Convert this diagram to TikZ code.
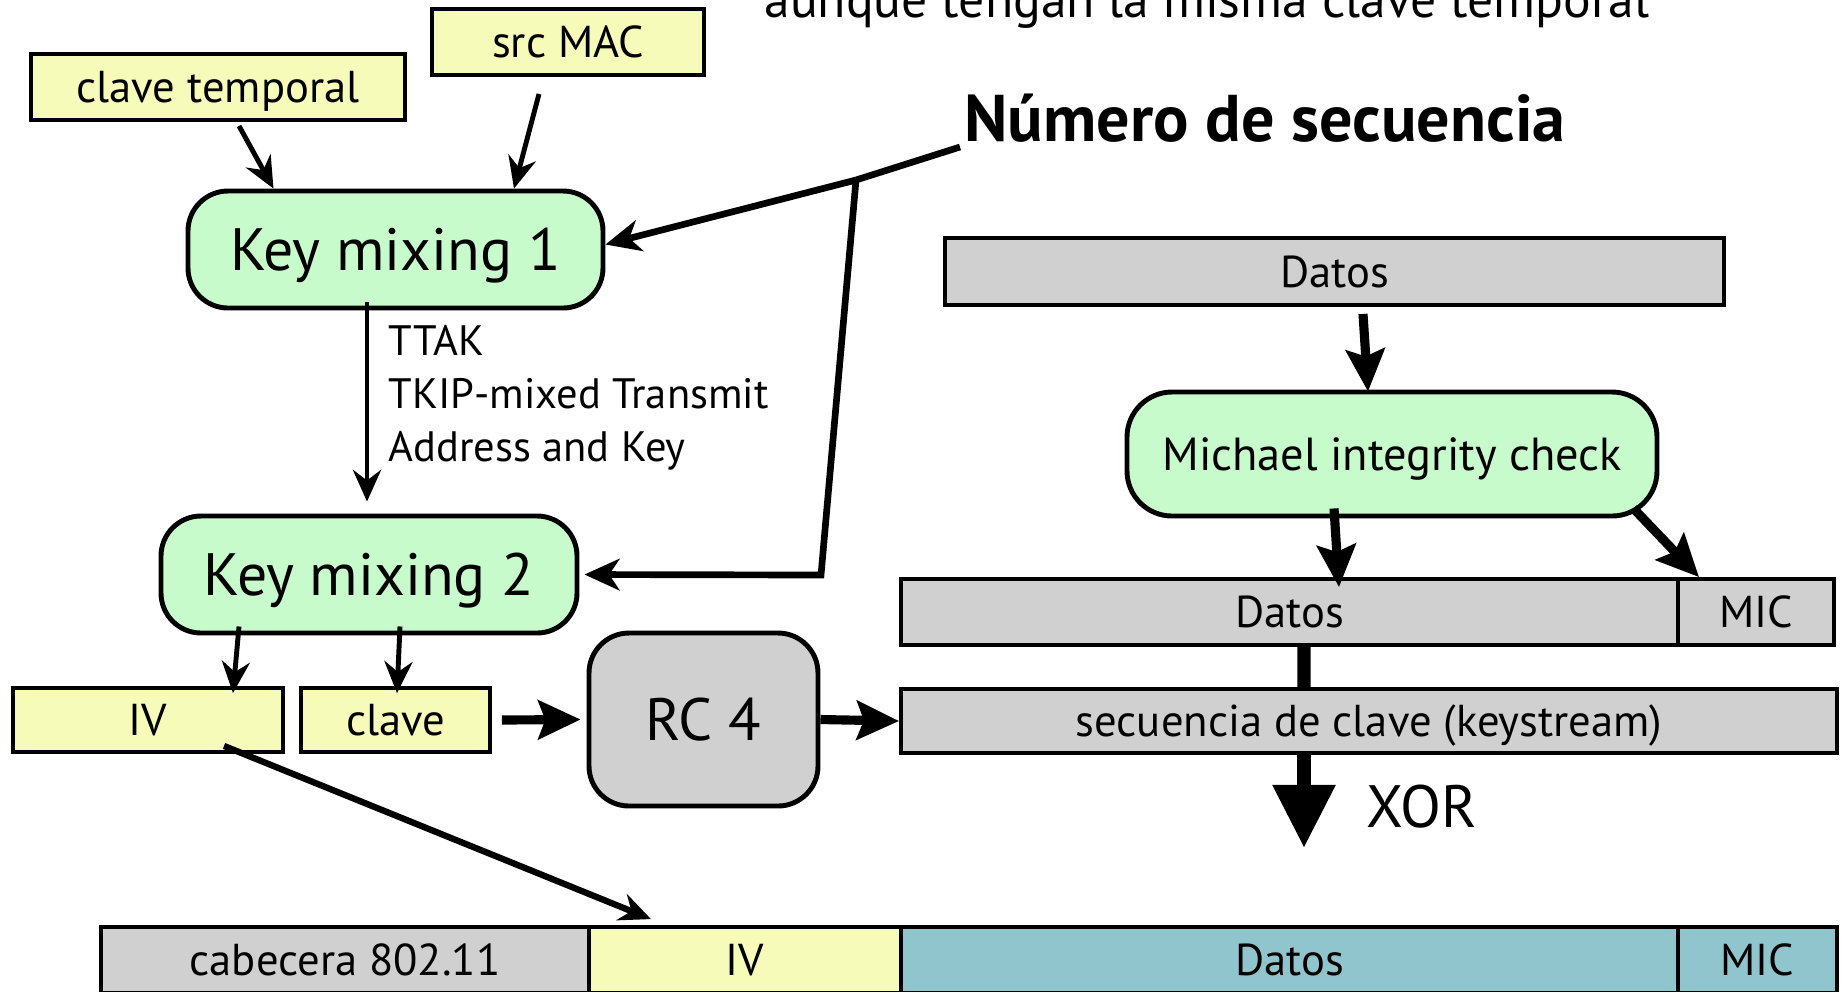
\documentclass[tikz,border=0pt]{standalone}
\usepackage{fontspec}
\setmainfont{PT Sans}
\usetikzlibrary{arrows.meta,calc}

\definecolor{ylw}{RGB}{247,251,185}
\definecolor{grn}{RGB}{200,251,204}
\definecolor{gry}{RGB}{208,208,208}
\definecolor{teal}{RGB}{145,197,206}

\newcommand{\bigfnt}{\fontsize{17}{20}\selectfont}
\newcommand{\labfnt}{\fontsize{12.7}{15}\selectfont}
\newcommand{\ttakfnt}{\fontsize{12.1}{15}\selectfont}
\newcommand{\seqfnt}{\fontsize{18.8}{22}\selectfont\bfseries}
\newcommand{\topfnt}{\fontsize{14.7}{18}\selectfont}

\tikzset{
  inbox/.style={draw, line width=1.1pt, fill=ylw, inner sep=0pt, text depth=0pt, font=\labfnt},
  mixbox/.style={draw, line width=1.4pt, rounded corners=4mm, fill=grn, inner sep=0pt, text depth=0pt},
  databox/.style={draw, line width=1.1pt, fill=gry, inner sep=0pt, text depth=0pt, font=\labfnt},
  pktbox/.style={draw, line width=1.1pt, inner sep=0pt, text depth=0pt, font=\labfnt,
    minimum height=6.6mm},
  thinarr/.style={line width=1.4pt, -{Stealth[length=9pt,width=8pt,inset=3pt]}},
  seqarr/.style={line width=1.9pt, -{Stealth[length=10pt,width=9pt,inset=3pt]}},
  thickarr/.style={line width=2.6pt, -{Stealth[length=12pt,width=11pt,inset=2pt]}}
}

\begin{document}
\begin{tikzpicture}[x=0.1mm,y=-0.1mm]
    \path[use as bounding box, clip] (0,0) rectangle (1846,991);

    % inputs
    \node[anchor=base, font=\topfnt] (note) at (1207,17) {aunque tengan la misma clave temporal};
    \node[inbox, minimum width=37.4mm, minimum height=6.6mm] (tk) at (218,87) {clave temporal};
    \node[inbox, minimum width=27.2mm, minimum height=6.6mm] (mac) at (568,42) {src MAC};
    \node[font=\seqfnt] (seq) at (1265,118) {Número de secuencia};

    % key mixing
    \node[mixbox, minimum width=41.5mm, minimum height=11.7mm, font=\bigfnt] (km1) at (395.5,249.5) {Key mixing 1};
    \node[mixbox, minimum width=41.6mm, minimum height=11.7mm, font=\bigfnt] (km2) at (369,574.5) {Key mixing 2};
    \node[anchor=north west, align=left, inner sep=0pt, font=\ttakfnt] (ttak) at (388,325)
        {TTAK\\TKIP-mixed Transmit\\Address and Key};

    \node[inbox, minimum width=27mm, minimum height=6.4mm] (iv) at (148,720) {IV};
    \node[inbox, minimum width=18.9mm, minimum height=6.4mm] (cl) at (395.5,720) {clave};
    \node[draw, line width=1.4pt, rounded corners=4mm, fill=gry, minimum width=22.9mm,
        minimum height=17.3mm, text depth=0pt, font=\bigfnt] (rc) at (703.5,719.5) {RC 4};

    % integrity
    \node[databox, minimum width=77.9mm, minimum height=6.7mm] (datA) at (1334.5,271.5) {Datos};
    \node[mixbox, rounded corners=4.5mm, minimum width=53mm, minimum height=12.4mm, font=\fontsize{13.2}{16}\selectfont] (mic) at (1392,454) {Michael integrity check};
    \node[databox, minimum width=77.7mm, minimum height=6.6mm] (datB) at (1289.5,612) {Datos};
    \node[databox, minimum width=15.6mm, minimum height=6.6mm] (micB) at (1756,612) {MIC};
    \node[databox, minimum width=93.6mm, minimum height=6.4mm] (ks) at (1369,721) {secuencia de clave (keystream)};
    \node[font=\bigfnt] (xor) at (1422,807) {XOR};

    % packet
    \node[pktbox, fill=gry, minimum width=48.8mm] (cab) at (345,960) {cabecera 802.11};
    \node[pktbox, fill=ylw, minimum width=31.2mm] (ivB) at (745,960) {IV};
    \node[pktbox, fill=teal, minimum width=77.7mm] (datC) at (1289.5,960) {Datos};
    \node[pktbox, fill=teal, minimum width=15.9mm] (micC) at (1757.5,960) {MIC};
    \fill[gry] (101,994) rectangle (589,1005);
    \fill[ylw] (589,994) rectangle (901,1005);
    \fill[teal] (901,994) rectangle (1837,1005);

    \coordinate (s0) at (960,147);
    \coordinate (split) at (856,180);
    \coordinate (bend) at (821,575);
    \coordinate (xe) at (1304,848);

    \draw[thinarr] ($(tk.south)+(21,4)$) -- ($(km1.north)+(-122,0)$);
    \draw[thinarr] ($(mac.south)+(-29,17)$) -- ($(km1.north)+(118.5,0)$);
    \draw[thinarr] ($(km1.south)+(-28.5,-8)$) -- ($(km2.north)+(-2,-12)$);
    \draw[line width=1.9pt] (s0) -- (split);
    \draw[seqarr] (split) -- ($(km1.east)+(0,-5)$);
    \draw[seqarr] (split) -- (bend) -- ($(km2.east)+(5,0)$);
    \draw[thinarr] ($(km2.south)+(-130,-9)$) -- ($(iv.north)+(85,7)$);
    \draw[thinarr] ($(km2.south)+(31,-9)$) -- ($(cl.north)+(1.5,7)$);
    \draw[thickarr] ($(cl.east)+(10,0)$) -- ($(rc.west)+(-6,0)$);
    \draw[thickarr] (rc.east) -- (ks.west);
    \draw[line width=1.8pt, -{Stealth[length=9pt,width=8pt,inset=3pt]}] ($(iv.south)+(76,-8)$) -- ($(ivB.north)+(-94,-6)$);

    \draw[thickarr] ($(datA.south)+(28.5,7)$) -- ($(mic.north)+(-24,2)$);
    \draw[thickarr] ($(mic.south)+(-58,-10)$) -- ($(datB.north)+(49.5,10)$);
    \draw[thickarr] ($(mic.south east)+(-26,-10)$) -- ($(micB.north)+(-57,0)$);
    \draw[line width=3.8pt] ($(datB.south)+(14.5,0)$) -- ($(ks.north)+(-65,0)$);
    \draw[line width=3.8pt, -{Triangle[length=18pt,width=17pt]}] ($(ks.south)+(-65,0)$) -- (xe);
\end{tikzpicture}
\end{document}
